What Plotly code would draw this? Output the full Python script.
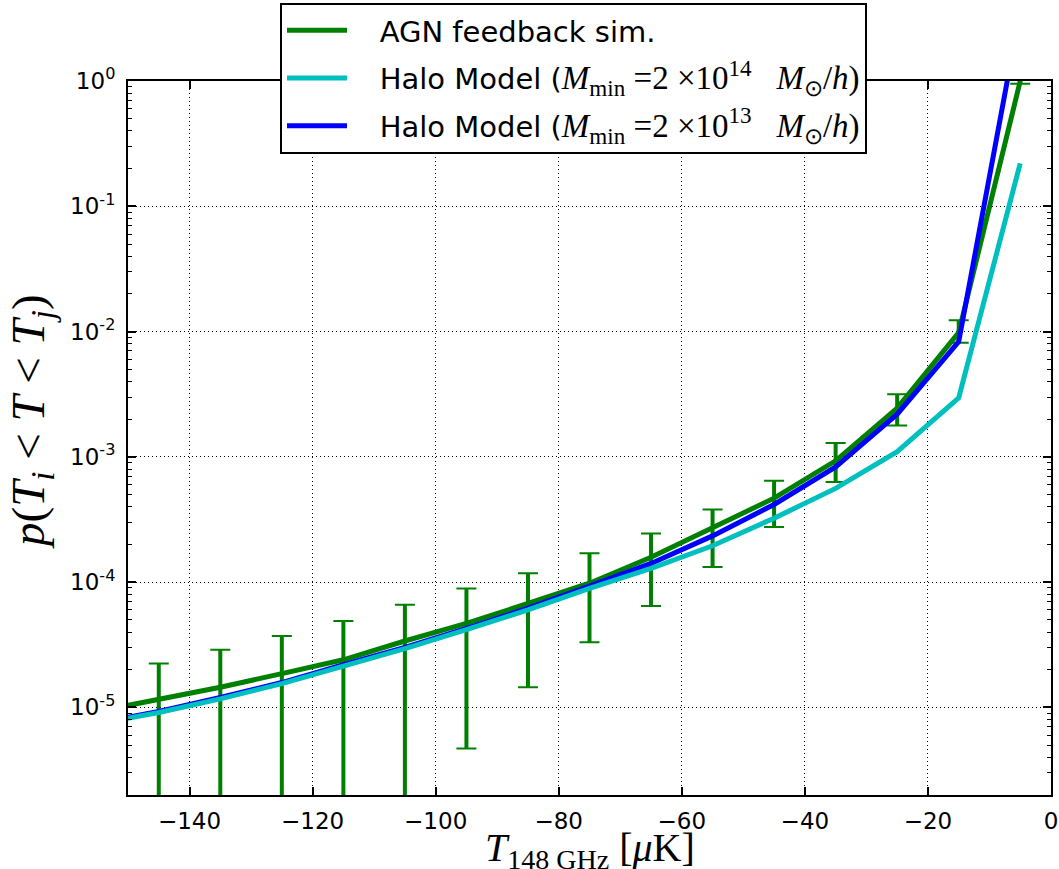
import plotly.graph_objects as go

# ---------------- data ----------------
T_line = [-155, -145, -135, -125, -115, -105, -95, -85, -75, -65, -55, -45, -35, -25, -15, -5]
agn_sim = [9.3e-6, 1.15e-5, 1.45e-5, 1.86e-5, 2.40e-5, 3.39e-5, 4.68e-5, 6.76e-5, 9.8e-5,
           1.58e-4, 2.69e-4, 4.68e-4, 9.3e-4, 2.45e-3, 9.8e-3, 1.0]
halo_1e14 = [7.4e-6, 9.1e-6, 1.17e-5, 1.55e-5, 2.14e-5, 2.95e-5, 4.17e-5, 6.0e-5, 8.9e-5,
             1.29e-4, 1.95e-4, 3.24e-4, 5.6e-4, 1.10e-3, 2.95e-3, 0.22]
halo_1e13 = [7.5e-6, 9.3e-6, 1.2e-5, 1.58e-5, 2.19e-5, 3.02e-5, 4.27e-5, 6.2e-5, 9.3e-5,
             1.41e-4, 2.34e-4, 4.17e-4, 8.3e-4, 2.19e-3, 8.3e-3, 3.6]

T_err = [-145, -135, -125, -115, -105, -95, -85, -75, -65, -55, -45, -35, -25, -15, -5]
agn_err_center = [1.15e-5, 1.45e-5, 1.86e-5, 2.40e-5, 3.39e-5, 4.68e-5, 6.76e-5, 9.8e-5,
                  1.58e-4, 2.69e-4, 4.68e-4, 9.3e-4, 2.45e-3, 9.8e-3, 1.0]
agn_err_upper = [2.24e-5, 2.88e-5, 3.72e-5, 4.90e-5, 6.61e-5, 8.91e-5, 1.175e-4, 1.70e-4,
                 2.45e-4, 3.80e-4, 6.46e-4, 1.29e-3, 3.16e-3, 1.23e-2, 1.05]
agn_err_lower = [5e-7, 1e-7, 1e-7, 1e-7, 1.5e-6, 4.7e-6, 1.45e-5, 3.31e-5,
                 6.46e-5, 1.32e-4, 2.75e-4, 6.31e-4, 1.78e-3, 8.13e-3, 0.95]

x_ticks = [-140, -120, -100, -80, -60, -40, -20, 0]
y_tickvals = [1e-5, 1e-4, 1e-3, 1e-2, 1e-1, 1]
y_ticktext = ["10<sup>-5</sup>", "10<sup>-4</sup>", "10<sup>-3</sup>",
              "10<sup>-2</sup>", "10<sup>-1</sup>", "10<sup>0</sup>"]

x_title = "<i>T</i><sub>148 GHz</sub> [<i>μ</i>K]"
y_title = "<i>p</i>(<i>T<sub>i</sub></i> &lt; <i>T</i> &lt; <i>T<sub>j</sub></i>)"

PAD = "&nbsp;&nbsp;&nbsp;"
MATH = "<span style='font-family:Liberation Serif;font-size:33px'>"
labels = [
    PAD + "AGN feedback sim.",
    PAD + "Halo Model (" + MATH + "<i>M</i><sub>min</sub> =2 ×10<sup>14</sup>   <i>M</i><sub>⊙</sub>/<i>h</i>)</span>",
    PAD + "Halo Model (" + MATH + "<i>M</i><sub>min</sub> =2 ×10<sup>13</sup>   <i>M</i><sub>⊙</sub>/<i>h</i>)</span>",
]

GREEN = "#008000"
CYAN = "#00BFBF"
BLUE = "#0000FF"

err_plus = [u - c for u, c in zip(agn_err_upper, agn_err_center)]
err_minus = [c - l for c, l in zip(agn_err_center, agn_err_lower)]

fig = go.Figure()

fig.add_trace(go.Scatter(x=T_line, y=agn_sim, mode="lines", name=labels[0],
                         line=dict(color=GREEN, width=5), legendrank=1, legendgroup="a"))
# error bar stems
fig.add_trace(go.Scatter(x=T_err, y=agn_err_center, mode="markers",
                         marker=dict(size=1, color="rgba(0,0,0,0)"), showlegend=False,
                         error_y=dict(type="data", array=err_plus, arrayminus=err_minus,
                                      symmetric=False, color=GREEN, thickness=4, width=0)))
# error bar caps
fig.add_trace(go.Scatter(x=T_err, y=agn_err_center, mode="markers",
                         marker=dict(size=1, color="rgba(0,0,0,0)"), showlegend=False,
                         error_y=dict(type="data", array=err_plus, arrayminus=err_minus,
                                      symmetric=False, color=GREEN, thickness=2, width=10)))
fig.add_trace(go.Scatter(x=T_line, y=halo_1e13, mode="lines", name=labels[2],
                         line=dict(color=BLUE, width=5), legendrank=3, legendgroup="c"))
fig.add_trace(go.Scatter(x=T_line, y=halo_1e14, mode="lines", name=labels[1],
                         line=dict(color=CYAN, width=5), legendrank=2, legendgroup="b"))

axis_common = dict(showline=True, linecolor="black", linewidth=2, mirror="ticks",
                   ticks="inside", tickcolor="black", tickwidth=1.5, ticklen=8,
                   showgrid=True, gridcolor="black", gridwidth=1, griddash="1px,3px",
                   zeroline=False, automargin=False,
                   tickfont=dict(family="DejaVu Sans", size=23, color="black"))

fig.update_xaxes(range=[-150, 0], tickvals=x_ticks, **axis_common, ticklabelstandoff=4)
fig.update_yaxes(type="log", range=[-5.699, 0], tickvals=y_tickvals, ticktext=y_ticktext,
                 **axis_common, ticklabelstandoff=6,
                 minor=dict(ticks="inside", ticklen=4, tickwidth=1, tickcolor="black",
                            dtick="D1", showgrid=False))

# axis titles as annotations (precise placement, title partially cut at bottom like the reference)
fig.add_annotation(text=y_title, xref="paper", yref="paper", x=(31 - 128) / 923,
                   y=1 - (422 - 81) / 714, xanchor="center", yanchor="middle",
                   textangle=-90, showarrow=False,
                   font=dict(family="Liberation Serif", size=47, color="black"))
fig.add_annotation(text=x_title, xref="paper", yref="paper", x=0.5,
                   y=1 - (823 - 81) / 714, xanchor="center", yanchor="top",
                   showarrow=False,
                   font=dict(family="Liberation Serif", size=40, color="black"))

fig.update_layout(
    width=1059, height=869,
    margin=dict(l=128, r=8, t=81, b=74, autoexpand=False),
    paper_bgcolor="white", plot_bgcolor="white",
    legend=dict(xref="container", yref="container", x=280 / 1059, y=1 - 3 / 869,
                xanchor="left", yanchor="top",
                bgcolor="white", bordercolor="black", borderwidth=2,
                font=dict(family="DejaVu Sans", size=29, color="black"),
                itemwidth=60, tracegroupgap=7, traceorder="grouped"),
)

fig.write_html("out.html", config={"displayModeBar": False},
               post_script="document.body.style.margin='0px';")
